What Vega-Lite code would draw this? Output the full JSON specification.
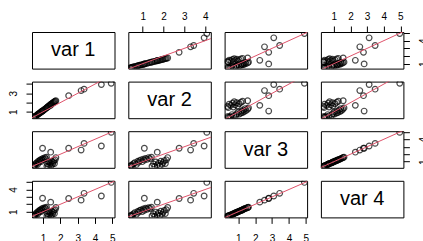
{
  "$schema": "https://vega.github.io/schema/vega-lite/v6.json",
  "background": "white",
  "padding": {"left": 7, "top": 10, "right": 0, "bottom": 0},
  "data": {"values": [
    {"v1":0.45,"v2":0.40,"v3":0.40,"v4":0.42},
    {"v1":0.48,"v2":0.44,"v3":0.48,"v4":0.47},
    {"v1":0.55,"v2":0.50,"v3":0.38,"v4":0.40},
    {"v1":0.52,"v2":0.48,"v3":0.55,"v4":0.56},
    {"v1":0.58,"v2":0.56,"v3":0.72,"v4":0.70},
    {"v1":0.63,"v2":0.62,"v3":0.85,"v4":0.87},
    {"v1":0.68,"v2":0.70,"v3":0.62,"v4":0.63},
    {"v1":0.72,"v2":0.76,"v3":1.05,"v4":1.03},
    {"v1":0.76,"v2":0.80,"v3":0.90,"v4":0.92},
    {"v1":0.80,"v2":0.86,"v3":1.15,"v4":1.16},
    {"v1":0.84,"v2":0.92,"v3":1.25,"v4":1.24},
    {"v1":0.88,"v2":0.98,"v3":1.00,"v4":1.02},
    {"v1":0.92,"v2":1.03,"v3":1.35,"v4":1.37},
    {"v1":0.96,"v2":1.08,"v3":1.20,"v4":1.19},
    {"v1":1.00,"v2":1.14,"v3":1.45,"v4":1.46},
    {"v1":1.05,"v2":1.21,"v3":1.30,"v4":1.32},
    {"v1":1.10,"v2":1.28,"v3":1.55,"v4":1.54},
    {"v1":1.15,"v2":1.35,"v3":1.40,"v4":1.42},
    {"v1":1.20,"v2":1.42,"v3":1.60,"v4":1.61},
    {"v1":1.22,"v2":1.45,"v3":0.40,"v4":0.41},
    {"v1":1.26,"v2":1.52,"v3":0.70,"v4":0.71},
    {"v1":1.30,"v2":1.58,"v3":0.35,"v4":0.37},
    {"v1":1.34,"v2":1.63,"v3":0.95,"v4":0.94},
    {"v1":1.38,"v2":1.70,"v3":0.55,"v4":0.57},
    {"v1":1.42,"v2":1.76,"v3":0.80,"v4":0.82},
    {"v1":1.46,"v2":1.82,"v3":0.45,"v4":0.44},
    {"v1":1.50,"v2":1.87,"v3":1.05,"v4":1.07},
    {"v1":1.54,"v2":1.93,"v3":0.65,"v4":0.66},
    {"v1":1.58,"v2":1.98,"v3":0.90,"v4":0.91},
    {"v1":1.62,"v2":2.04,"v3":1.15,"v4":1.17},
    {"v1":1.66,"v2":2.09,"v3":0.75,"v4":0.74},
    {"v1":1.70,"v2":2.14,"v3":1.25,"v4":1.27},
    {"v1":1.74,"v2":2.20,"v3":1.55,"v4":1.56},
    {"v1":0.97,"v2":1.08,"v3":2.80,"v4":2.82},
    {"v1":1.44,"v2":1.70,"v3":2.27,"v4":2.29},
    {"v1":2.48,"v2":2.75,"v3":2.80,"v4":2.78},
    {"v1":3.20,"v2":3.30,"v3":2.55,"v4":2.56},
    {"v1":3.37,"v2":3.45,"v3":3.45,"v4":3.48},
    {"v1":4.37,"v2":3.95,"v3":3.10,"v4":3.12},
    {"v1":4.94,"v2":4.08,"v3":4.92,"v4":4.96}
  ]},
  "datasets": {
    "diag": [{"v1":-1,"v2":-1,"v3":-1,"v4":-1},{"v1":7,"v2":7,"v3":7,"v4":7}]
  },
  "columns": 4,
  "spacing": {"row": 12.6, "column": 13.3},
  "bounds": "flush",
  "align": "all",
  "concat": [
    {"width": 82.5, "height": 36.6, "data": {"values": [{"label": "var 1"}]},
     "mark": {"type": "text", "fontSize": 20, "font": "Liberation Sans", "color": "black"},
     "encoding": {"text": {"field": "label"},
       "x": {"datum": 0.5, "type": "quantitative", "scale": {"domain": [0, 1]}, "axis": null},
       "y": {"datum": 0.5, "type": "quantitative", "scale": {"domain": [0, 1]}, "axis": null}}},
    {"width": 82.5, "height": 36.6,
     "encoding": {
       "x": {"field": "v2", "type": "quantitative", "scale": {"domain": [0.31, 4.27], "nice": false, "zero": false}, "axis": {"orient": "top", "values": [1,2,3,4], "title": null}},
       "y": {"field": "v1", "type": "quantitative", "scale": {"domain": [0.36, 5.13], "nice": false, "zero": false}, "axis": null}},
     "layer": [
       {"mark": {"type": "point", "shape": "circle", "filled": false, "size": 32, "color": "black", "strokeWidth": 1.2, "clip": true}},
       {"data": {"name": "diag"}, "mark": {"type": "line", "color": "#DF536B", "strokeWidth": 1, "clip": true}}
     ]},
    {"width": 82.5, "height": 36.6,
     "encoding": {
       "x": {"field": "v3", "type": "quantitative", "scale": {"domain": [0.18, 5.08], "nice": false, "zero": false}, "axis": null},
       "y": {"field": "v1", "type": "quantitative", "scale": {"domain": [0.36, 5.13], "nice": false, "zero": false}, "axis": null}},
     "layer": [
       {"mark": {"type": "point", "shape": "circle", "filled": false, "size": 32, "color": "black", "strokeWidth": 1.2, "clip": true}},
       {"data": {"name": "diag"}, "mark": {"type": "line", "color": "#DF536B", "strokeWidth": 1, "clip": true}}
     ]},
    {"width": 82.5, "height": 36.6,
     "encoding": {
       "x": {"field": "v4", "type": "quantitative", "scale": {"domain": [0.22, 5.18], "nice": false, "zero": false}, "axis": {"orient": "top", "values": [1,2,3,4,5], "title": null}},
       "y": {"field": "v1", "type": "quantitative", "scale": {"domain": [0.36, 5.13], "nice": false, "zero": false}, "axis": {"orient": "right", "values": [1,2,3,4,5], "title": null, "labelAngle": -90, "labelExpr": "datum.value == 1 || datum.value == 4 ? datum.label : ''"}}},
     "layer": [
       {"mark": {"type": "point", "shape": "circle", "filled": false, "size": 32, "color": "black", "strokeWidth": 1.2, "clip": true}},
       {"data": {"name": "diag"}, "mark": {"type": "line", "color": "#DF536B", "strokeWidth": 1, "clip": true}}
     ]},

    {"width": 82.5, "height": 36.6,
     "encoding": {
       "x": {"field": "v1", "type": "quantitative", "scale": {"domain": [0.36, 5.13], "nice": false, "zero": false}, "axis": null},
       "y": {"field": "v2", "type": "quantitative", "scale": {"domain": [0.31, 4.27], "nice": false, "zero": false}, "axis": {"orient": "left", "values": [1,2,3,4], "title": null, "labelAngle": -90, "labelExpr": "datum.value == 1 || datum.value == 3 ? datum.label : ''"}}},
     "layer": [
       {"mark": {"type": "point", "shape": "circle", "filled": false, "size": 32, "color": "black", "strokeWidth": 1.2, "clip": true}},
       {"data": {"name": "diag"}, "mark": {"type": "line", "color": "#DF536B", "strokeWidth": 1, "clip": true}}
     ]},
    {"width": 82.5, "height": 36.6, "data": {"values": [{"label": "var 2"}]},
     "mark": {"type": "text", "fontSize": 20, "font": "Liberation Sans", "color": "black"},
     "encoding": {"text": {"field": "label"},
       "x": {"datum": 0.5, "type": "quantitative", "scale": {"domain": [0, 1]}, "axis": null},
       "y": {"datum": 0.5, "type": "quantitative", "scale": {"domain": [0, 1]}, "axis": null}}},
    {"width": 82.5, "height": 36.6,
     "encoding": {
       "x": {"field": "v3", "type": "quantitative", "scale": {"domain": [0.18, 5.08], "nice": false, "zero": false}, "axis": null},
       "y": {"field": "v2", "type": "quantitative", "scale": {"domain": [0.31, 4.27], "nice": false, "zero": false}, "axis": null}},
     "layer": [
       {"mark": {"type": "point", "shape": "circle", "filled": false, "size": 32, "color": "black", "strokeWidth": 1.2, "clip": true}},
       {"data": {"name": "diag"}, "mark": {"type": "line", "color": "#DF536B", "strokeWidth": 1, "clip": true}}
     ]},
    {"width": 82.5, "height": 36.6,
     "encoding": {
       "x": {"field": "v4", "type": "quantitative", "scale": {"domain": [0.22, 5.18], "nice": false, "zero": false}, "axis": null},
       "y": {"field": "v2", "type": "quantitative", "scale": {"domain": [0.31, 4.27], "nice": false, "zero": false}, "axis": null}},
     "layer": [
       {"mark": {"type": "point", "shape": "circle", "filled": false, "size": 32, "color": "black", "strokeWidth": 1.2, "clip": true}},
       {"data": {"name": "diag"}, "mark": {"type": "line", "color": "#DF536B", "strokeWidth": 1, "clip": true}}
     ]},

    {"width": 82.5, "height": 36.6,
     "encoding": {
       "x": {"field": "v1", "type": "quantitative", "scale": {"domain": [0.36, 5.13], "nice": false, "zero": false}, "axis": null},
       "y": {"field": "v3", "type": "quantitative", "scale": {"domain": [0.18, 5.08], "nice": false, "zero": false}, "axis": null}},
     "layer": [
       {"mark": {"type": "point", "shape": "circle", "filled": false, "size": 32, "color": "black", "strokeWidth": 1.2, "clip": true}},
       {"data": {"name": "diag"}, "mark": {"type": "line", "color": "#DF536B", "strokeWidth": 1, "clip": true}}
     ]},
    {"width": 82.5, "height": 36.6,
     "encoding": {
       "x": {"field": "v2", "type": "quantitative", "scale": {"domain": [0.31, 4.27], "nice": false, "zero": false}, "axis": null},
       "y": {"field": "v3", "type": "quantitative", "scale": {"domain": [0.18, 5.08], "nice": false, "zero": false}, "axis": null}},
     "layer": [
       {"mark": {"type": "point", "shape": "circle", "filled": false, "size": 32, "color": "black", "strokeWidth": 1.2, "clip": true}},
       {"data": {"name": "diag"}, "mark": {"type": "line", "color": "#DF536B", "strokeWidth": 1, "clip": true}}
     ]},
    {"width": 82.5, "height": 36.6, "data": {"values": [{"label": "var 3"}]},
     "mark": {"type": "text", "fontSize": 20, "font": "Liberation Sans", "color": "black"},
     "encoding": {"text": {"field": "label"},
       "x": {"datum": 0.5, "type": "quantitative", "scale": {"domain": [0, 1]}, "axis": null},
       "y": {"datum": 0.5, "type": "quantitative", "scale": {"domain": [0, 1]}, "axis": null}}},
    {"width": 82.5, "height": 36.6,
     "encoding": {
       "x": {"field": "v4", "type": "quantitative", "scale": {"domain": [0.22, 5.18], "nice": false, "zero": false}, "axis": null},
       "y": {"field": "v3", "type": "quantitative", "scale": {"domain": [0.18, 5.08], "nice": false, "zero": false}, "axis": {"orient": "right", "values": [1,2,3,4,5], "title": null, "labelAngle": -90, "labelExpr": "datum.value == 1 || datum.value == 4 ? datum.label : ''"}}},
     "layer": [
       {"mark": {"type": "point", "shape": "circle", "filled": false, "size": 32, "color": "black", "strokeWidth": 1.2, "clip": true}},
       {"data": {"name": "diag"}, "mark": {"type": "line", "color": "#DF536B", "strokeWidth": 1, "clip": true}}
     ]},

    {"width": 82.5, "height": 36.6,
     "encoding": {
       "x": {"field": "v1", "type": "quantitative", "scale": {"domain": [0.36, 5.13], "nice": false, "zero": false}, "axis": {"orient": "bottom", "values": [1,2,3,4,5], "title": null}},
       "y": {"field": "v4", "type": "quantitative", "scale": {"domain": [0.22, 5.18], "nice": false, "zero": false}, "axis": {"orient": "left", "values": [1,2,3,4,5], "title": null, "labelAngle": -90, "labelExpr": "datum.value == 1 || datum.value == 4 ? datum.label : ''"}}},
     "layer": [
       {"mark": {"type": "point", "shape": "circle", "filled": false, "size": 32, "color": "black", "strokeWidth": 1.2, "clip": true}},
       {"data": {"name": "diag"}, "mark": {"type": "line", "color": "#DF536B", "strokeWidth": 1, "clip": true}}
     ]},
    {"width": 82.5, "height": 36.6,
     "encoding": {
       "x": {"field": "v2", "type": "quantitative", "scale": {"domain": [0.31, 4.27], "nice": false, "zero": false}, "axis": null},
       "y": {"field": "v4", "type": "quantitative", "scale": {"domain": [0.22, 5.18], "nice": false, "zero": false}, "axis": null}},
     "layer": [
       {"mark": {"type": "point", "shape": "circle", "filled": false, "size": 32, "color": "black", "strokeWidth": 1.2, "clip": true}},
       {"data": {"name": "diag"}, "mark": {"type": "line", "color": "#DF536B", "strokeWidth": 1, "clip": true}}
     ]},
    {"width": 82.5, "height": 36.6,
     "encoding": {
       "x": {"field": "v3", "type": "quantitative", "scale": {"domain": [0.18, 5.08], "nice": false, "zero": false}, "axis": {"orient": "bottom", "values": [1,2,3,4,5], "title": null}},
       "y": {"field": "v4", "type": "quantitative", "scale": {"domain": [0.22, 5.18], "nice": false, "zero": false}, "axis": null}},
     "layer": [
       {"mark": {"type": "point", "shape": "circle", "filled": false, "size": 32, "color": "black", "strokeWidth": 1.2, "clip": true}},
       {"data": {"name": "diag"}, "mark": {"type": "line", "color": "#DF536B", "strokeWidth": 1, "clip": true}}
     ]},
    {"width": 82.5, "height": 36.6, "data": {"values": [{"label": "var 4"}]},
     "mark": {"type": "text", "fontSize": 20, "font": "Liberation Sans", "color": "black"},
     "encoding": {"text": {"field": "label"},
       "x": {"datum": 0.5, "type": "quantitative", "scale": {"domain": [0, 1]}, "axis": null},
       "y": {"datum": 0.5, "type": "quantitative", "scale": {"domain": [0, 1]}, "axis": null}}}
  ],
  "config": {
    "view": {"stroke": "black", "strokeWidth": 1},
    "axis": {"domain": false, "grid": false, "ticks": true, "tickColor": "black", "tickSize": 6, "tickWidth": 1,
             "labelColor": "black", "labelFont": "Liberation Sans", "labelFontSize": 10,
             "labelFlush": false, "labelOverlap": false, "labelBound": false},
    "axisTop": {"labelPadding": 5},
    "axisBottom": {"labelPadding": 10},
    "axisLeft": {"labelPadding": 8},
    "axisRight": {"labelPadding": 9}
  }
}
